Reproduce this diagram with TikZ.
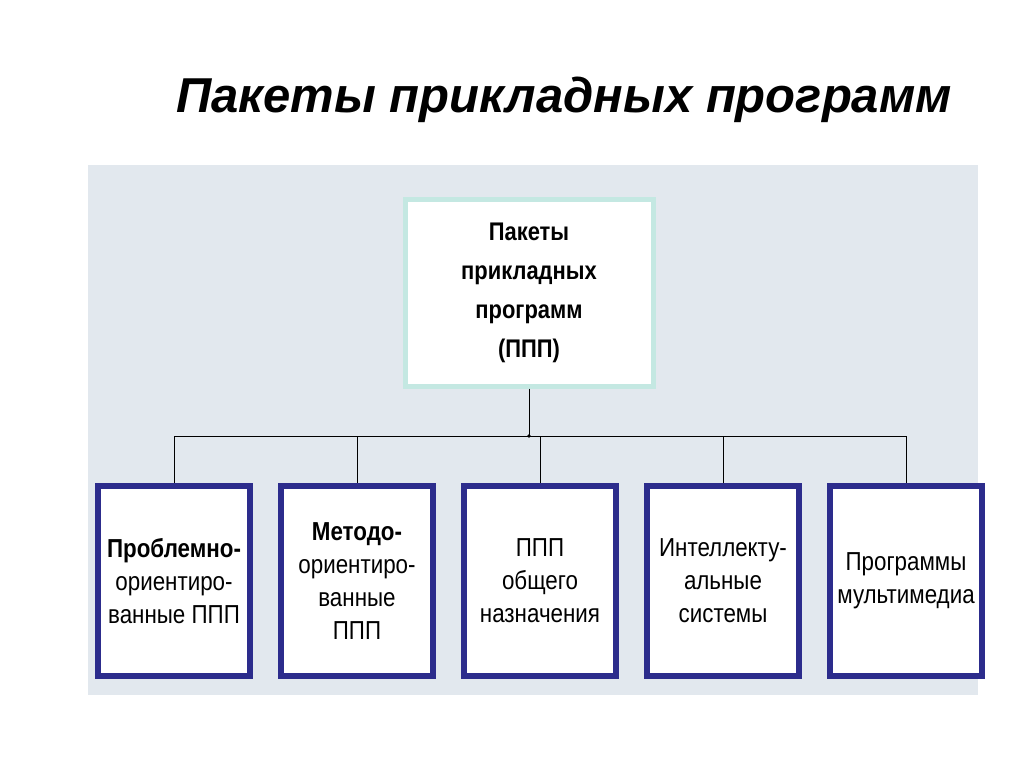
\documentclass[tikz,border=0pt]{standalone}
\usepackage{fontspec}
\setmainfont{Liberation Sans}
\newfontfamily\narrowfont[FakeStretch=0.86]{Liberation Sans}
\usetikzlibrary{positioning}
\definecolor{panelbg}{RGB}{226,232,238}
\definecolor{boxblue}{RGB}{44,44,140}
\definecolor{topedge}{RGB}{196,232,226}
\begin{document}
\begin{tikzpicture}[
    x=1pt, y=-1pt,
    root/.style={rectangle, draw=topedge, line width=5pt, fill=white, minimum width=248pt, minimum height=186pt, font=\narrowfont\fontsize{25.5}{39}\selectfont\bfseries, align=center},
    leaf/.style={rectangle, draw=boxblue, line width=6pt, fill=white, minimum width=152pt, minimum height=190pt, font=\narrowfont\fontsize{26}{33}\selectfont, align=center},
    link/.style={black, line width=0.8pt}
]
\useasboundingbox (0,0) rectangle (1024,767);
\fill[white] (0,0) rectangle (1024,767);
\fill[panelbg] (88,165) rectangle (978,695);

% Title
\node[font=\fontsize{49}{58}\selectfont\bfseries\itshape] (title) at (564,100) {Пакеты прикладных программ};

% Nodes
\node[root] (ppp) at (529,293) {Пакеты\\прикладных\\программ\\(ППП)};
\node[leaf] (problem) at (174,581) {\textbf{Проблемно-}\\ориентиро-\\ванные ППП};
\node[leaf, right=25pt of problem] (method) {\textbf{Методо-}\\ориентиро-\\ванные\\ППП};
\node[leaf, right=25pt of method] (general) {ППП\\общего\\назначения};
\node[leaf, right=25pt of general] (intel) {Интеллекту-\\альные\\системы};
\node[leaf, right=25pt of intel] (media) {Программы\\мультимедиа};

% Connectors
\coordinate (bus) at (529,436);
\draw[link] (ppp.south) -- (bus);
\fill (bus) circle (1.8pt);
\draw[link] (problem.north |- bus) -- (media.north |- bus);
\foreach \n in {problem,method,general,intel,media}
    \draw[link] (\n.north |- bus) -- (\n.north);
\end{tikzpicture}
\end{document}
